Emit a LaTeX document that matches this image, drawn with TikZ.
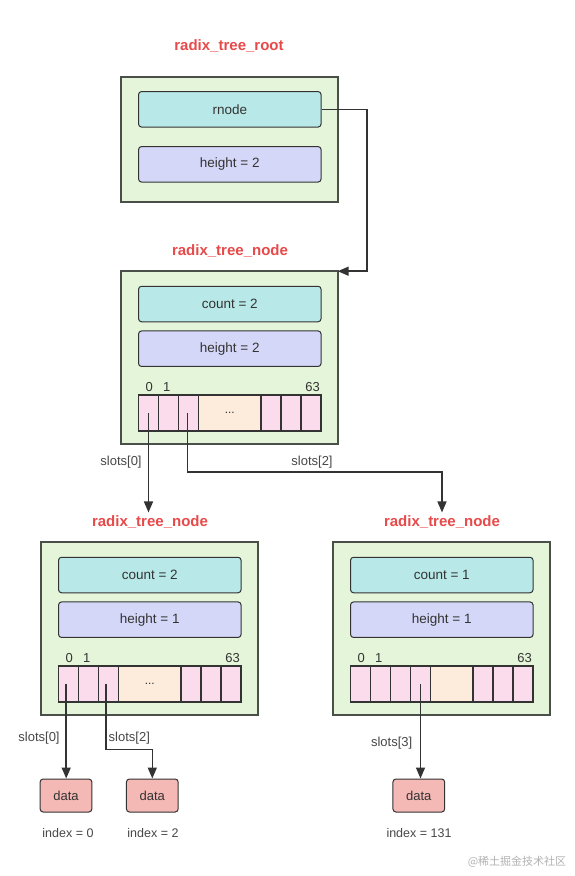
\documentclass[tikz,border=0pt]{standalone}
\usepackage{fontspec}
\setmainfont{Liberation Sans}
\newfontfamily\cjk{Noto Sans CJK SC}
\usetikzlibrary{arrows.meta,calc}
\definecolor{titlered}{HTML}{E84A4A}
\definecolor{greenf}{HTML}{E5F5D9}
\definecolor{cyanf}{HTML}{B8E8E8}
\definecolor{lavf}{HTML}{D5D7F8}
\definecolor{pinkf}{HTML}{FBDCEC}
\definecolor{beigef}{HTML}{FDEBDC}
\definecolor{dataf}{HTML}{F4B8B5}
\definecolor{linec}{HTML}{333333}
\definecolor{boxc}{HTML}{4A4F4A}
\definecolor{txtc}{HTML}{333333}
\tikzset{
  ttl/.style={text=titlered,font=\fontsize{15}{17}\selectfont\bfseries,inner sep=2pt},
  outerbox/.style={draw=boxc,fill=greenf,line width=1.6pt,inner sep=0pt,outer sep=0pt},
  field/.style={draw=linec,rounded corners=3pt,line width=1pt,minimum width=182.5pt,minimum height=35.5pt,inner sep=0pt,text=txtc,font=\fontsize{13.5}{15}\selectfont},
  cell/.style={draw=linec,fill=pinkf,line width=1.1pt,minimum width=20pt,minimum height=36pt,inner sep=0pt,outer sep=0pt},
  dots/.style={draw=linec,fill=beigef,line width=1.1pt,minimum height=36pt,inner sep=0pt,outer sep=0pt,text=txtc,font=\fontsize{12}{14}\selectfont},
  idx/.style={text=txtc,font=\fontsize{13}{15}\selectfont,inner sep=0pt},
  lbl/.style={text=txtc!90,font=\fontsize{13}{15}\selectfont,inner sep=0pt},
  datab/.style={draw=linec,fill=dataf,rounded corners=3pt,line width=1pt,minimum width=51.7pt,minimum height=33pt,inner sep=0pt,text=txtc,font=\fontsize{13}{15}\selectfont},
  conn/.style={draw=linec,line width=1.5pt,-{Triangle[length=11pt,width=9pt]}},
}
\newcommand\rtnode[7]{%
\begin{scope}[shift={(#2,#3)}]
\node[ttl] (#1t) at (230,251) {radix\_tree\_node};
\node[outerbox,minimum width=217pt,minimum height=173pt] (#1o) at (229.2,357.7) {};
\node[field,fill=cyanf] (#1cnt) at (229.8,304) {#4};
\node[field,fill=lavf] (#1h) at (229.8,348.7) {#5};
\node[idx] (#1ia) at (149.3,386.7) {0};
\node[idx] (#1ib) at (166.7,386.7) {1};
\node[idx] (#1ic) at (312.7,386.7) {63};
\foreach \k in {1,...,#6}{\node[cell] (#1c\k) at (128.5+20*\k,413) {};}
\pgfmathsetmacro\dl{138.5+20*#6}
\pgfmathsetmacro\dc{(\dl+261)/2}
\pgfmathsetmacro\dw{261-\dl}
\node[dots,minimum width=\dw pt] (#1d) at (\dc,413) {#7};
\node[cell] (#1e1) at (271,413) {};
\node[cell] (#1e2) at (291,413) {};
\node[cell] (#1e3) at (311,413) {};
\end{scope}}
\begin{document}
\begin{tikzpicture}[x=1pt,y=-1pt]
\path[use as bounding box,fill=white] (0,0) rectangle (575,876);
% root
\node[ttl] (rt) at (229,45.7) {radix\_tree\_root};
\node[outerbox,minimum width=217pt,minimum height=125pt] (ro) at (229.5,139.5) {};
\node[field,fill=cyanf] (rn) at (229.8,109.3) {rnode};
\node[field,fill=lavf] (rh) at (229.8,164.3) {height = 2};
% nodes
\rtnode{m}{0}{0}{count = 2}{height = 2}{3}{...}
\rtnode{l}{-80}{271}{count = 2}{height = 1}{3}{...}
\rtnode{r}{212}{271}{count = 1}{height = 1}{4}{}
% data
\node[datab] (d0) at (66,795.5) {data};
\node[datab] (d2) at (152.3,795.5) {data};
\node[datab] (d3) at (418.8,795.5) {data};
\node[lbl,font=\fontsize{12.5}{14}\selectfont] (x0) at (68,833) {index = 0};
\node[lbl,font=\fontsize{12.5}{14}\selectfont] (x2) at (153,833) {index = 2};
\node[lbl,font=\fontsize{12.5}{14}\selectfont] (x3) at (419,833) {index = 131};
% connectors
\coordinate (bend) at (367,0);
\draw[conn] (rn.east) -| (bend |- mo.north east) -- (mo.north east);
\draw[conn,shorten >=1pt] (mc1.center) -- (mc1.center |- lt.north);
\draw[conn,shorten >=1pt] ([xshift=-0.8pt]mc3.center) -- ++(0,59) -| (rt.north);
\draw[conn] ([xshift=-2.3pt]lc1.center) -- ([xshift=-2.3pt]lc1.center |- d0.north);
\draw[conn] ([xshift=-2.5pt]lc3.center) -- ++(0,65.3) -| (d2.north);
\draw[conn] (rc4.center) -- (rc4.center |- d3.north);
% labels
\node[lbl] (s0) at (121,461.7) {slots[0]};
\node[lbl] (s2) at (312,461.7) {slots[2]};
\node[lbl] (s0b) at (39,737.7) {slots[0]};
\node[lbl] (s2b) at (129.3,737.7) {slots[2]};
\node[lbl] (s3) at (391.7,743.3) {slots[3]};
\node[text=black!30,font=\cjk\fontsize{11}{13}\selectfont,inner sep=0pt] (wm) at (517,862) {@稀土掘金技术社区};
\end{tikzpicture}
\end{document}
